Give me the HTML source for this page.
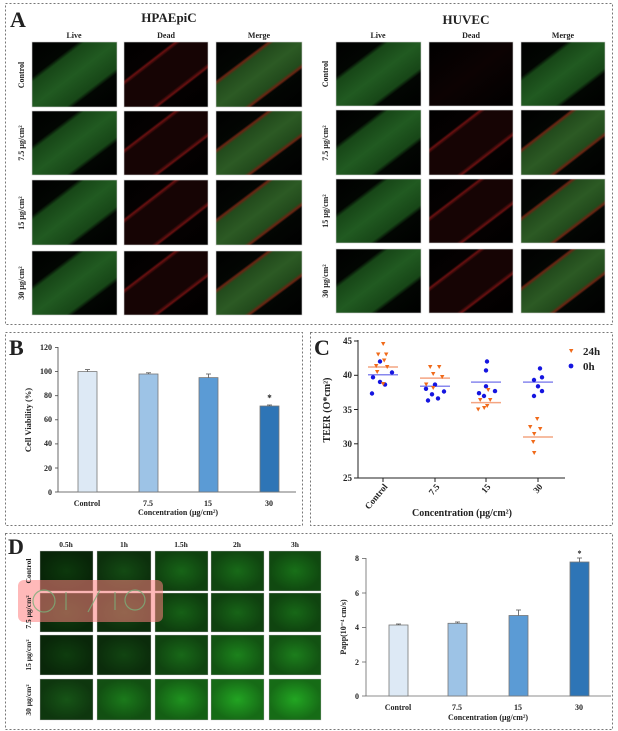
<!DOCTYPE html>
<html><head><meta charset="utf-8"><style>
body{margin:0;background:#fff}
svg{display:block}
text{font-family:"Liberation Serif",serif;font-weight:bold;fill:#222}
</style></head><body>
<svg width="618" height="731" viewBox="0 0 618 731" xmlns="http://www.w3.org/2000/svg">
<defs>
<linearGradient id="gL" x1="0" y1="0" x2="1" y2="1">
<stop offset="0" stop-color="#000"/><stop offset="0.27" stop-color="#020602"/><stop offset="0.31" stop-color="#174617"/><stop offset="0.5" stop-color="#215a21"/><stop offset="0.7" stop-color="#174617"/><stop offset="0.74" stop-color="#020602"/><stop offset="1" stop-color="#000"/></linearGradient>
<linearGradient id="gD" x1="0" y1="0" x2="1" y2="1">
<stop offset="0" stop-color="#000"/><stop offset="0.29" stop-color="#050101"/><stop offset="0.31" stop-color="#6a1010"/><stop offset="0.34" stop-color="#160404"/><stop offset="0.66" stop-color="#160404"/><stop offset="0.69" stop-color="#6a1010"/><stop offset="0.71" stop-color="#050101"/><stop offset="1" stop-color="#000"/></linearGradient>
<linearGradient id="gM" x1="0" y1="0" x2="1" y2="1">
<stop offset="0" stop-color="#000"/><stop offset="0.29" stop-color="#030603"/><stop offset="0.31" stop-color="#6a2412"/><stop offset="0.34" stop-color="#224a1c"/><stop offset="0.5" stop-color="#2c5a24"/><stop offset="0.66" stop-color="#224a1c"/><stop offset="0.69" stop-color="#6a2412"/><stop offset="0.71" stop-color="#030603"/><stop offset="1" stop-color="#000"/></linearGradient>
<linearGradient id="gD0" x1="0" y1="0" x2="1" y2="1">
<stop offset="0" stop-color="#000"/><stop offset="0.5" stop-color="#0c0202"/><stop offset="1" stop-color="#000"/></linearGradient>
<radialGradient id="vig"><stop offset="0" stop-color="#000" stop-opacity="0"/><stop offset="1" stop-color="#000" stop-opacity="0.35"/></radialGradient>
</defs>
<rect x="0" y="0" width="618" height="731" fill="#fff"/>
<g fill="none" stroke="#777" stroke-dasharray="2,2" stroke-width="1">
<rect x="5.5" y="3.5" width="607" height="321"/>
<rect x="5.5" y="332.5" width="297" height="193"/>
<rect x="310.5" y="332.5" width="302" height="193"/>
<rect x="5.5" y="533.5" width="607" height="196"/>
</g>
<text x="10" y="27" font-size="22">A</text>
<text x="169" y="22" font-size="13" text-anchor="middle">HPAEpiC</text>
<text x="466" y="24" font-size="13" text-anchor="middle">HUVEC</text>
<g font-size="8" text-anchor="middle">
<text x="74" y="38">Live</text><text x="166" y="38">Dead</text><text x="259" y="38">Merge</text>
<text x="378" y="38">Live</text><text x="471" y="38">Dead</text><text x="563" y="38">Merge</text>
</g>
<g stroke="#ccc" stroke-width="0.6">
<rect x="32" y="42" width="85" height="65" fill="url(#gL)"/><rect x="124" y="42" width="84" height="65" fill="url(#gD)"/><rect x="216" y="42" width="86" height="65" fill="url(#gM)"/>
<rect x="32" y="111" width="85" height="64" fill="url(#gL)"/><rect x="124" y="111" width="84" height="64" fill="url(#gD)"/><rect x="216" y="111" width="86" height="64" fill="url(#gM)"/>
<rect x="32" y="180" width="85" height="65" fill="url(#gL)"/><rect x="124" y="180" width="84" height="65" fill="url(#gD)"/><rect x="216" y="180" width="86" height="65" fill="url(#gM)"/>
<rect x="32" y="251" width="85" height="64" fill="url(#gL)"/><rect x="124" y="251" width="84" height="64" fill="url(#gD)"/><rect x="216" y="251" width="86" height="64" fill="url(#gM)"/>
<rect x="336" y="42" width="85" height="64" fill="url(#gL)"/><rect x="429" y="42" width="84" height="64" fill="url(#gD0)"/><rect x="521" y="42" width="84" height="64" fill="url(#gL)"/>
<rect x="336" y="110" width="85" height="65" fill="url(#gL)"/><rect x="429" y="110" width="84" height="65" fill="url(#gD)"/><rect x="521" y="110" width="84" height="65" fill="url(#gM)"/>
<rect x="336" y="179" width="85" height="64" fill="url(#gL)"/><rect x="429" y="179" width="84" height="64" fill="url(#gD)"/><rect x="521" y="179" width="84" height="64" fill="url(#gM)"/>
<rect x="336" y="249" width="85" height="64" fill="url(#gL)"/><rect x="429" y="249" width="84" height="64" fill="url(#gD)"/><rect x="521" y="249" width="84" height="64" fill="url(#gM)"/>
</g>
<g font-size="8">
<text transform="translate(24,75) rotate(-90)" text-anchor="middle">Control</text>
<text transform="translate(24,143) rotate(-90)" text-anchor="middle">7.5 μg/cm²</text>
<text transform="translate(24,213) rotate(-90)" text-anchor="middle">15 μg/cm²</text>
<text transform="translate(24,283) rotate(-90)" text-anchor="middle">30 μg/cm²</text>
<text transform="translate(328,74) rotate(-90)" text-anchor="middle">Control</text>
<text transform="translate(328,143) rotate(-90)" text-anchor="middle">7.5 μg/cm²</text>
<text transform="translate(328,211) rotate(-90)" text-anchor="middle">15 μg/cm²</text>
<text transform="translate(328,281) rotate(-90)" text-anchor="middle">30 μg/cm²</text>
</g>
<!-- Panel B -->
<text x="9" y="355" font-size="22">B</text>
<g stroke="#444" stroke-width="0.8">
<line x1="58" y1="347" x2="58" y2="492"/><line x1="58" y1="492" x2="296" y2="492"/>
<line x1="55" y1="347.5" x2="58" y2="347.5"/><line x1="55" y1="371.6" x2="58" y2="371.6"/><line x1="55" y1="395.7" x2="58" y2="395.7"/><line x1="55" y1="419.8" x2="58" y2="419.8"/><line x1="55" y1="443.9" x2="58" y2="443.9"/><line x1="55" y1="468" x2="58" y2="468"/><line x1="55" y1="492" x2="58" y2="492"/>
</g>
<g font-size="8" text-anchor="end">
<text x="52" y="350">120</text><text x="52" y="374">100</text><text x="52" y="398">80</text><text x="52" y="422">60</text><text x="52" y="446">40</text><text x="52" y="471">20</text><text x="52" y="495">0</text>
</g>
<text transform="translate(31,420) rotate(-90)" font-size="8.5" text-anchor="middle">Cell Viability (%)</text>
<g stroke="#777" stroke-width="0.8">
<rect x="78" y="371.6" width="19" height="120.4" fill="#dde9f5"/>
<rect x="139" y="374" width="19" height="118" fill="#9dc3e6"/>
<rect x="199" y="377.6" width="19" height="114.4" fill="#5b9bd5"/>
<rect x="260" y="406" width="19" height="86" fill="#2e75b6"/>
</g>
<g stroke="#555" stroke-width="0.8">
<line x1="87.5" y1="371.6" x2="87.5" y2="369.6"/><line x1="85" y1="369.6" x2="90" y2="369.6"/>
<line x1="148.5" y1="374" x2="148.5" y2="372.8"/><line x1="146" y1="372.8" x2="151" y2="372.8"/>
<line x1="208.5" y1="377.6" x2="208.5" y2="374"/><line x1="206" y1="374" x2="211" y2="374"/>
<line x1="269.5" y1="406" x2="269.5" y2="405"/><line x1="267" y1="405" x2="272" y2="405"/>
</g>
<text x="269.5" y="401" font-size="9" text-anchor="middle" font-weight="normal">*</text>
<g font-size="8" text-anchor="middle">
<text x="87" y="506">Control</text><text x="148" y="506">7.5</text><text x="208" y="506">15</text><text x="269" y="506">30</text>
<text x="178" y="515">Concentration (μg/cm²)</text>
</g>
<!-- Panel C -->
<text x="314" y="355" font-size="22">C</text>
<g stroke="#222" stroke-width="1">
<line x1="358" y1="340" x2="358" y2="478"/><line x1="358" y1="478" x2="565" y2="478"/>
<line x1="354" y1="341" x2="358" y2="341"/><line x1="354" y1="375.3" x2="358" y2="375.3"/><line x1="354" y1="409.5" x2="358" y2="409.5"/><line x1="354" y1="443.8" x2="358" y2="443.8"/><line x1="354" y1="478" x2="358" y2="478"/>
<line x1="383" y1="478" x2="383" y2="482"/><line x1="435" y1="478" x2="435" y2="482"/><line x1="486" y1="478" x2="486" y2="482"/><line x1="538" y1="478" x2="538" y2="482"/>
</g>
<g font-size="9" text-anchor="end" font-weight="normal">
<text x="352" y="344">45</text><text x="352" y="378">40</text><text x="352" y="413">35</text><text x="352" y="447">30</text><text x="352" y="481">25</text>
</g>
<text transform="translate(330,410) rotate(-90)" font-size="10" text-anchor="middle">TEER (O*cm²)</text>
<g font-size="9" text-anchor="end">
<text transform="translate(388,487) rotate(-50)">Control</text>
<text transform="translate(440,487) rotate(-50)">7.5</text>
<text transform="translate(491,487) rotate(-50)">15</text>
<text transform="translate(543,487) rotate(-50)">30</text>
</g>
<text x="462" y="516" font-size="10" text-anchor="middle">Concentration (μg/cm²)</text>
<g stroke-width="1.5">
<line x1="368" y1="367" x2="398" y2="367" stroke="#f4a582"/>
<line x1="368" y1="374.7" x2="398" y2="374.7" stroke="#8888ee"/>
<line x1="420" y1="378.1" x2="450" y2="378.1" stroke="#f4a582"/>
<line x1="420" y1="386.3" x2="450" y2="386.3" stroke="#8888ee"/>
<line x1="471" y1="402.6" x2="501" y2="402.6" stroke="#f4a582"/>
<line x1="471" y1="382.1" x2="501" y2="382.1" stroke="#8888ee"/>
<line x1="523" y1="437" x2="553" y2="437" stroke="#f4a582"/>
<line x1="523" y1="382.1" x2="553" y2="382.1" stroke="#8888ee"/>
</g>
<g fill="#1515e0">
<circle cx="380" cy="361.5" r="2.2"/><circle cx="373" cy="377.3" r="2.2"/><circle cx="392" cy="372.5" r="2.2"/><circle cx="380" cy="381.9" r="2.2"/><circle cx="385" cy="384.6" r="2.2"/><circle cx="372" cy="393.5" r="2.2"/>
<circle cx="435" cy="384.6" r="2.2"/><circle cx="426" cy="388.8" r="2.2"/><circle cx="444" cy="391.5" r="2.2"/><circle cx="432" cy="394.3" r="2.2"/><circle cx="438" cy="398.4" r="2.2"/><circle cx="428" cy="400.5" r="2.2"/>
<circle cx="487" cy="361.5" r="2.2"/><circle cx="486" cy="370.4" r="2.2"/><circle cx="486" cy="386.3" r="2.2"/><circle cx="495" cy="391.1" r="2.2"/><circle cx="479" cy="393.2" r="2.2"/><circle cx="484" cy="396" r="2.2"/>
<circle cx="540" cy="368.4" r="2.2"/><circle cx="542" cy="377.3" r="2.2"/><circle cx="534" cy="380" r="2.2"/><circle cx="538" cy="386.3" r="2.2"/><circle cx="542" cy="391.1" r="2.2"/><circle cx="534" cy="396" r="2.2"/>
</g>
<g fill="#f06a1a">
<path d="M381,342 h4.4 l-2.2,4z"/><path d="M376,352.5 h4.4 l-2.2,4z"/><path d="M384,352.5 h4.4 l-2.2,4z"/><path d="M382,358.5 h4.4 l-2.2,4z"/><path d="M374,364 h4.4 l-2.2,4z"/><path d="M385,365 h4.4 l-2.2,4z"/><path d="M381,382 h4.4 l-2.2,4z"/><path d="M375,370 h4.4 l-2.2,4z"/>
<path d="M428,365 h4.4 l-2.2,4z"/><path d="M437,365 h4.4 l-2.2,4z"/><path d="M431,372 h4.4 l-2.2,4z"/><path d="M440,375 h4.4 l-2.2,4z"/><path d="M424,382.5 h4.4 l-2.2,4z"/><path d="M431,386 h4.4 l-2.2,4z"/>
<path d="M486,388 h4.4 l-2.2,4z"/><path d="M478,398 h4.4 l-2.2,4z"/><path d="M488,398 h4.4 l-2.2,4z"/><path d="M482,406 h4.4 l-2.2,4z"/><path d="M476,407.5 h4.4 l-2.2,4z"/><path d="M485,404 h4.4 l-2.2,4z"/>
<path d="M535,417 h4.4 l-2.2,4z"/><path d="M528,425 h4.4 l-2.2,4z"/><path d="M538,427 h4.4 l-2.2,4z"/><path d="M532,432 h4.4 l-2.2,4z"/><path d="M531,440 h4.4 l-2.2,4z"/><path d="M532,451 h4.4 l-2.2,4z"/>
<path d="M569,349 h4.4 l-2.2,4z"/>
</g>
<circle cx="571" cy="366" r="2.4" fill="#1515e0"/>
<text x="583" y="355" font-size="11" font-weight="normal" font-family="DejaVu Sans">24h</text>
<text x="583" y="370" font-size="11" font-weight="normal" font-family="DejaVu Sans">0h</text>
<!-- Panel D -->
<text x="8" y="554" font-size="22">D</text>
<g font-size="7.5" text-anchor="middle">
<text x="66" y="547">0.5h</text><text x="124" y="547">1h</text><text x="181" y="547">1.5h</text><text x="237" y="547">2h</text><text x="295" y="547">3h</text>
</g>
<g stroke="#ddd" stroke-width="0.6">
<rect x="40" y="551" width="53" height="40" fill="#0c380c"/><rect x="97" y="551" width="54" height="40" fill="#134a13"/><rect x="155" y="551" width="53" height="40" fill="#176417"/><rect x="211" y="551" width="53" height="40" fill="#186a18"/><rect x="269" y="551" width="52" height="40" fill="#187018"/>
<rect x="40" y="593" width="53" height="39" fill="#0e3e0e"/><rect x="97" y="593" width="54" height="39" fill="#124612"/><rect x="155" y="593" width="53" height="39" fill="#166016"/><rect x="211" y="593" width="53" height="39" fill="#176417"/><rect x="269" y="593" width="52" height="39" fill="#176817"/>
<rect x="40" y="635" width="53" height="40" fill="#0e3c0e"/><rect x="97" y="635" width="54" height="40" fill="#114411"/><rect x="155" y="635" width="53" height="40" fill="#186818"/><rect x="211" y="635" width="53" height="40" fill="#1c821c"/><rect x="269" y="635" width="52" height="40" fill="#1c7e1c"/>
<rect x="40" y="679" width="53" height="41" fill="#165416"/><rect x="97" y="679" width="54" height="41" fill="#1b7a1b"/><rect x="155" y="679" width="53" height="41" fill="#1f921f"/><rect x="211" y="679" width="53" height="41" fill="#22a422"/><rect x="269" y="679" width="52" height="41" fill="#22a622"/>
</g>
<g fill="url(#vig)">
<rect x="40" y="551" width="53" height="40"/><rect x="97" y="551" width="54" height="40"/><rect x="155" y="551" width="53" height="40"/><rect x="211" y="551" width="53" height="40"/><rect x="269" y="551" width="52" height="40"/>
<rect x="40" y="593" width="53" height="39"/><rect x="97" y="593" width="54" height="39"/><rect x="155" y="593" width="53" height="39"/><rect x="211" y="593" width="53" height="39"/><rect x="269" y="593" width="52" height="39"/>
<rect x="40" y="635" width="53" height="40"/><rect x="97" y="635" width="54" height="40"/><rect x="155" y="635" width="53" height="40"/><rect x="211" y="635" width="53" height="40"/><rect x="269" y="635" width="52" height="40"/>
<rect x="40" y="679" width="53" height="41"/><rect x="97" y="679" width="54" height="41"/><rect x="155" y="679" width="53" height="41"/><rect x="211" y="679" width="53" height="41"/><rect x="269" y="679" width="52" height="41"/>
</g>
<rect x="18" y="580" width="145" height="42" rx="6" fill="#ff8080" fill-opacity="0.55"/>
<g fill="none" stroke="#7ab07a" stroke-width="1.2" opacity="0.8">
<circle cx="44" cy="601" r="11"/><line x1="66" y1="592" x2="66" y2="610"/><line x1="115" y1="592" x2="115" y2="610"/><circle cx="135" cy="600" r="10"/><line x1="88" y1="612" x2="100" y2="590"/>
</g>
<g font-size="7.5">
<text transform="translate(31,571) rotate(-90)" text-anchor="middle">Control</text>
<text transform="translate(31,612) rotate(-90)" text-anchor="middle">7.5 μg/cm²</text>
<text transform="translate(31,655) rotate(-90)" text-anchor="middle">15 μg/cm²</text>
<text transform="translate(31,700) rotate(-90)" text-anchor="middle">30 μg/cm²</text>
</g>
<g stroke="#666" stroke-width="0.8">
<line x1="366" y1="558" x2="366" y2="696"/><line x1="366" y1="696" x2="611" y2="696"/>
<line x1="362" y1="558.5" x2="366" y2="558.5"/><line x1="362" y1="593" x2="366" y2="593"/><line x1="362" y1="627.5" x2="366" y2="627.5"/><line x1="362" y1="662" x2="366" y2="662"/><line x1="362" y1="696" x2="366" y2="696"/>
</g>
<g font-size="8" text-anchor="end">
<text x="359" y="561">8</text><text x="359" y="596">6</text><text x="359" y="630">4</text><text x="359" y="665">2</text><text x="359" y="699">0</text>
</g>
<text transform="translate(346,627) rotate(-90)" font-size="8" text-anchor="middle">Papp(10⁻⁴ cm/s)</text>
<g stroke="#777" stroke-width="0.8">
<rect x="389" y="625" width="19" height="71" fill="#dde9f5"/>
<rect x="448" y="623.3" width="19" height="72.7" fill="#9dc3e6"/>
<rect x="509" y="615.5" width="19" height="80.5" fill="#5b9bd5"/>
<rect x="570" y="562" width="19" height="134" fill="#2e75b6"/>
</g>
<g stroke="#555" stroke-width="0.8">
<line x1="398.5" y1="625" x2="398.5" y2="624"/><line x1="396" y1="624" x2="401" y2="624"/>
<line x1="457.5" y1="623.3" x2="457.5" y2="622"/><line x1="455" y1="622" x2="460" y2="622"/>
<line x1="518.5" y1="615.5" x2="518.5" y2="610"/><line x1="516" y1="610" x2="521" y2="610"/>
<line x1="579.5" y1="562" x2="579.5" y2="558"/><line x1="577" y1="558" x2="582" y2="558"/>
</g>
<text x="579.5" y="556" font-size="8" text-anchor="middle" font-weight="normal">*</text>
<g font-size="8" text-anchor="middle">
<text x="398" y="710">Control</text><text x="457" y="710">7.5</text><text x="518" y="710">15</text><text x="579" y="710">30</text>
<text x="488" y="720">Concentration (μg/cm²)</text>
</g>
</svg>
</body></html>
